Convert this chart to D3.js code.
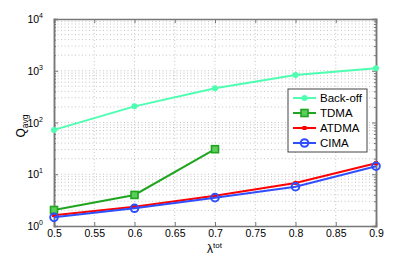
<!DOCTYPE html>
<html>
<head>
<meta charset="utf-8">
<script src="https://cdn.jsdelivr.net/npm/d3@7"></script>
<style>
  body { margin: 0; background: #fff; }
  text { font-family: "Liberation Sans", Arial, sans-serif; }
</style>
</head>
<body>
<div id="root"></div>
<script>
const lambdas = [0.5, 0.6, 0.7, 0.8, 0.9]
const backoff = [72, 205, 457, 829, 1117]
const tdma = [2.04, 3.98, 30.5]
const atdma = [1.62, 2.36, 3.85, 6.8, 16.3]
const cima = [1.47, 2.2, 3.53, 5.75, 14.3]
const xTicks = [0.5, 0.55, 0.6, 0.65, 0.7, 0.75, 0.8, 0.85, 0.9]
const yTicks = [1, 10, 100, 1000, 10000]

const series = [
  {name: 'Back-off', values: backoff, color: '#4dffb0', marker: 'dot'},
  {name: 'TDMA', values: tdma, color: '#1fa51f', marker: 'square'},
  {name: 'ATDMA', values: atdma, color: '#ff0000', marker: 'small'},
  {name: 'CIMA', values: cima, color: '#2f4fff', marker: 'circle'}
]

const W = 415, H = 257
const m = {left: 54, right: 39, top: 19, bottom: 31}

const svg = d3.select('#root').append('svg')
  .attr('width', W).attr('height', H)

const x = d3.scaleLinear().domain([0.5, 0.9]).range([m.left, W - m.right])
const y = d3.scaleLog().domain([1, 10000]).range([H - m.bottom, m.top])

// minor values for grid
const minors = []
for (let e = 0; e < 4; e++) for (let k = 2; k <= 9; k++) minors.push(k * Math.pow(10, e))

const grid = svg.append('g').attr('stroke', '#b8b8b8').attr('stroke-width', 0.8)
  .attr('stroke-dasharray', '1,2.5')
grid.selectAll('.gy').data(minors.concat(yTicks.slice(1, -1))).join('line')
  .attr('x1', m.left).attr('x2', W - m.right)
  .attr('y1', d => y(d)).attr('y2', d => y(d))
grid.selectAll('.gx').data(xTicks.slice(1, -1)).join('line')
  .attr('y1', m.top).attr('y2', H - m.bottom)
  .attr('x1', d => x(d)).attr('x2', d => x(d))

// axes
const axisColor = '#777'
const xAxis = svg.append('g').attr('transform', `translate(0,${H - m.bottom})`)
  .call(d3.axisBottom(x).tickValues(xTicks).tickSize(-4).tickPadding(4).tickFormat(d3.format('')))
svg.append('g').attr('transform', `translate(0,${m.top})`)
  .call(d3.axisTop(x).tickValues(xTicks).tickSize(-4).tickFormat(''))
svg.append('g').attr('transform', `translate(${m.left},0)`)
  .call(d3.axisLeft(y).tickValues(yTicks).tickSize(-4).tickFormat(''))
svg.append('g').attr('transform', `translate(${m.left},0)`)
  .call(d3.axisLeft(y).tickValues(minors).tickSize(-2).tickFormat(''))
svg.append('g').attr('transform', `translate(${W - m.right},0)`)
  .call(d3.axisRight(y).tickValues(yTicks).tickSize(-4).tickFormat(''))
svg.append('g').attr('transform', `translate(${W - m.right},0)`)
  .call(d3.axisRight(y).tickValues(minors).tickSize(-2).tickFormat(''))

svg.selectAll('.domain').attr('stroke', axisColor).attr('stroke-width', 1.5)
svg.selectAll('.tick line').attr('stroke', axisColor)
xAxis.selectAll('text').attr('font-size', 10.5).attr('fill', '#000')

// y tick labels 10^n
yTicks.forEach((v, i) => {
  const t = svg.append('text').attr('x', m.left - 11).attr('y', y(v) + 4)
    .attr('text-anchor', 'end').attr('font-size', 10.5)
  t.append('tspan').text('10')
  t.append('tspan').attr('font-size', 7).attr('dy', -5).text(i)
})

// labels
const xl = svg.append('text').attr('x', x(0.7) - 8).attr('y', H - 4).attr('font-size', 12)
xl.append('tspan').text('λ')
xl.append('tspan').attr('font-size', 8).attr('dy', -5).text('tot')

const yl = svg.append('text').attr('transform', `translate(25,${y(100) + 15}) rotate(-90)`).attr('font-size', 12)
yl.append('tspan').text('Q')
yl.append('tspan').attr('font-size', 8.5).attr('dy', 3).text('avg')

// lines
const line = d3.line().x((d, i) => x(lambdas[i])).y(d => y(d))

function drawMarker(g, cx, cy, s) {
  if (s.marker === 'dot') {
    g.append('circle').attr('cx', cx).attr('cy', cy).attr('r', 3).attr('fill', s.color)
  } else if (s.marker === 'square') {
    g.append('rect').attr('x', cx - 3.5).attr('y', cy - 3.5).attr('width', 7).attr('height', 7)
      .attr('fill', '#5ccc5c').attr('stroke', s.color).attr('stroke-width', 1.6)
  } else if (s.marker === 'small') {
    g.append('rect').attr('x', cx - 2).attr('y', cy - 2).attr('width', 4).attr('height', 4)
      .attr('fill', s.color)
  } else {
    g.append('circle').attr('cx', cx).attr('cy', cy).attr('r', 3.8)
      .attr('fill', 'none').attr('stroke', s.color).attr('stroke-width', 2)
  }
}

series.forEach(s => {
  svg.append('path').datum(s.values).attr('d', line)
    .attr('fill', 'none').attr('stroke', s.color).attr('stroke-width', 2)
  const g = svg.append('g')
  s.values.forEach((v, i) => drawMarker(g, x(lambdas[i]), y(v), s))
})

// legend
const lg = svg.append('g').attr('transform', 'translate(288,89)')
lg.append('rect').attr('width', 79).attr('height', 63).attr('fill', '#fff')
  .attr('stroke', '#444').attr('stroke-width', 1)
series.forEach((s, i) => {
  const yy = 9 + i * 15
  lg.append('line').attr('x1', 5).attr('x2', 28).attr('y1', yy).attr('y2', yy)
    .attr('stroke', s.color).attr('stroke-width', 2)
  drawMarker(lg, 16.5, yy, s)
  lg.append('text').attr('x', 32).attr('y', yy + 4).attr('font-size', 11.5).text(s.name)
})
</script>
</body>
</html>
